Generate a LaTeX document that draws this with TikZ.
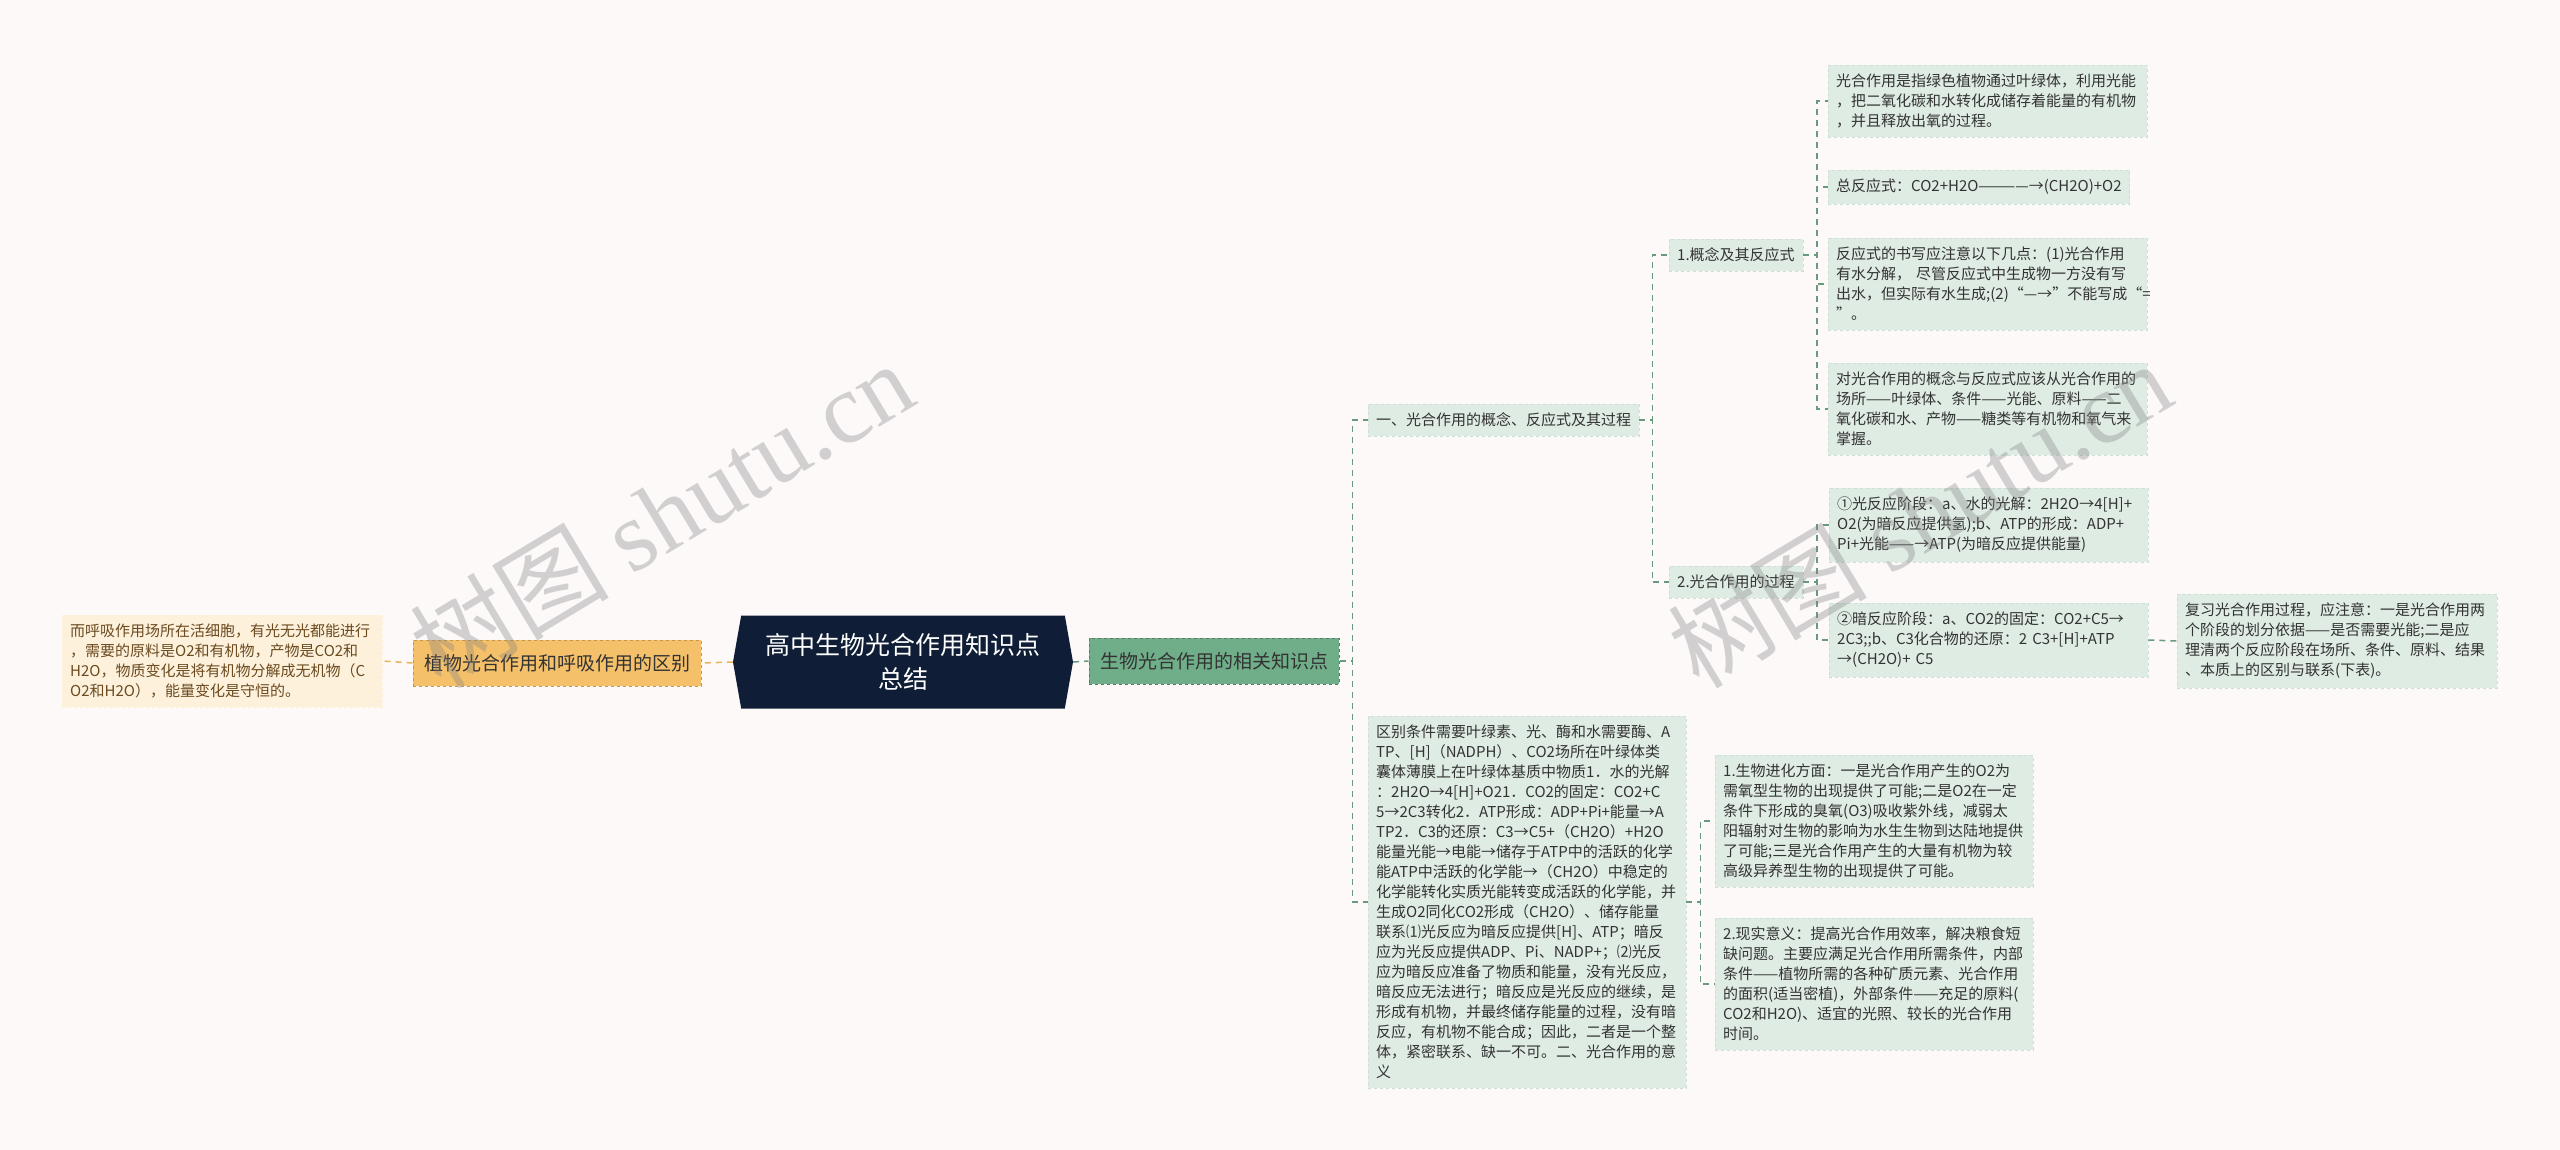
\documentclass[tikz,border=0pt]{standalone}
\usepackage{fontspec}
\setmainfont{Noto Sans CJK SC}
\newfontfamily\wmfont{Liberation Serif}
\usetikzlibrary{shapes.symbols}
\definecolor{bgcol}{HTML}{FCF9F8}
\definecolor{navy}{HTML}{0F1E36}
\definecolor{orangefill}{HTML}{F4C06A}
\definecolor{orangeline}{HTML}{E9B35A}
\definecolor{creamfill}{HTML}{FDF1DC}
\definecolor{creamtext}{HTML}{6B4A1F}
\definecolor{greenfill}{HTML}{6FAE88}
\definecolor{greenline}{HTML}{6A9A7E}
\definecolor{leaffill}{HTML}{DFECE4}
\definecolor{darktext}{HTML}{333333}

\begin{document}
\begin{tikzpicture}[
    x=1pt, y=-1pt,
    root/.style={shape=signal, signal to=west and east, signal pointer angle=160, fill=navy, text=white, font=\fontsize{25}{34}\selectfont, align=center, minimum width=340, minimum height=93, inner sep=0pt},
    topic/.style={dashed, line width=1pt, minimum height=46, inner xsep=11pt, text=darktext, font=\fontsize{19}{24}\selectfont},
    item/.style={fill=leaffill, draw=leaffill!85!greenline, dashed, text=darktext, anchor=west, align=left, inner xsep=8pt, inner ysep=9pt, font=\fontsize{15}{20}\selectfont},
    note/.style={item, fill=creamfill, draw=creamfill, text=creamtext},
    link/.style={draw=greenline, line width=1.5pt, dash pattern=on 6pt off 5pt},
    watermark/.style={rotate=31, text=gray, opacity=0.34, font=\fontsize{100}{100}\selectfont}
]
    \fill[bgcol] (0,0) rectangle (2560,1150);
    \useasboundingbox (0,0) rectangle (2560,1150);

    % root
    \node[root] (root) at (903,662) {高中生物光合作用知识点\\总结};

    % left branch
    \node[topic, fill=orangefill, draw=orangeline!85!black] (diff) at (557,663) {植物光合作用和呼吸作用的区别};
    \node[note, text width=304] (resp) at (62,661) {而呼吸作用场所在活细胞，有光无光都能进行\\，需要的原料是O2和有机物，产物是CO2和\\H2O，物质变化是将有机物分解成无机物（C\\O2和H2O），能量变化是守恒的。};

    % right branch
    \node[topic, fill=greenfill, draw=greenline!80!black] (know) at (1214,661) {生物光合作用的相关知识点};
    \node[item] (concept) at (1368,420) {一、光合作用的概念、反应式及其过程};
    \node[item, text width=302] (meaning) at (1368,902) {区别条件需要叶绿素、光、酶和水需要酶、A\\TP、[H]（NADPH）、CO2场所在叶绿体类\\囊体薄膜上在叶绿体基质中物质1．水的光解\\：2H2O→4[H]+O21．CO2的固定：CO2+C\\5→2C3转化2．ATP形成：ADP+Pi+能量→A\\TP2．C3的还原：C3→C5+（CH2O）+H2O\\能量光能→电能→储存于ATP中的活跃的化学\\能ATP中活跃的化学能→（CH2O）中稳定的\\化学能转化实质光能转变成活跃的化学能，并\\生成O2同化CO2形成（CH2O）、储存能量\\联系⑴光反应为暗反应提供[H]、ATP；暗反\\应为光反应提供ADP、Pi、NADP+；⑵光反\\应为暗反应准备了物质和能量，没有光反应，\\暗反应无法进行；暗反应是光反应的继续，是\\形成有机物，并最终储存能量的过程，没有暗\\反应，有机物不能合成；因此，二者是一个整\\体，紧密联系、缺一不可。二、光合作用的意\\义};

    % concept and equation
    \node[item] (eq) at (1669,255) {1.概念及其反应式};
    \node[item, text width=303] (define) at (1828,101) {光合作用是指绿色植物通过叶绿体，利用光能\\，把二氧化碳和水转化成储存着能量的有机物\\，并且释放出氧的过程。};
    \node[item] (total) at (1828,187) {总反应式：CO2+H2O————→(CH2O)+O2};
    \node[item, text width=303] (write) at (1828,284) {反应式的书写应注意以下几点：(1)光合作用\\有水分解， 尽管反应式中生成物一方没有写\\\mbox{出水，但实际有水生成;(2)“—→”不能写成“=}\\”。};
    \node[item, text width=303] (grasp) at (1828,409) {对光合作用的概念与反应式应该从光合作用的\\场所——叶绿体、条件——光能、原料——二\\氧化碳和水、产物——糖类等有机物和氧气来\\掌握。};

    % process
    \node[item] (proc) at (1669,582) {2.光合作用的过程};
    \node[item, text width=303] (light) at (1829,525) {①光反应阶段：a、水的光解：2H2O→4[H]+\\O2(为暗反应提供氢);b、ATP的形成：ADP+\\Pi+光能——→ATP(为暗反应提供能量)};
    \node[item, text width=303] (dark) at (1829,640) {②暗反应阶段：a、CO2的固定：CO2+C5→\\2C3;;b、C3化合物的还原：2 C3+[H]+ATP\\→(CH2O)+ C5};
    \node[item, text width=304] (review) at (2177,641) {复习光合作用过程，应注意：一是光合作用两\\个阶段的划分依据——是否需要光能;二是应\\理清两个反应阶段在场所、条件、原料、结果\\、本质上的区别与联系(下表)。};

    % significance
    \node[item, text width=302] (evo) at (1715,821) {1.生物进化方面：一是光合作用产生的O2为\\需氧型生物的出现提供了可能;二是O2在一定\\条件下形成的臭氧(O3)吸收紫外线，减弱太\\阳辐射对生物的影响为水生生物到达陆地提供\\了可能;三是光合作用产生的大量有机物为较\\高级异养型生物的出现提供了可能。};
    \node[item, text width=302] (real) at (1715,984) {2.现实意义：提高光合作用效率，解决粮食短\\缺问题。主要应满足光合作用所需条件，内部\\条件——植物所需的各种矿质元素、光合作用\\的面积(适当密植)，外部条件——充足的原料(\\CO2和H2O)、适宜的光照、较长的光合作用\\时间。};

    % connectors
    \draw[link, draw=orangeline] (root.west) -- (diff.east);
    \draw[link, draw=orangeline] (diff.west) -- (resp.east);
    \draw[link] (root.east) -- (know.west);
    \foreach \n in {concept,meaning}
        \draw[link] (know.east) -- ++(13,0) |- (\n.west);
    \foreach \n in {eq,proc}
        \draw[link] (concept.east) -- ++(13,0) |- (\n.west);
    \foreach \n in {define,total,write,grasp}
        \draw[link] (eq.east) -- ++(14,0) |- (\n.west);
    \foreach \n in {light,dark}
        \draw[link] (proc.east) -- ++(14,0) |- (\n.west);
    \draw[link] (dark.east) -- (review.west);
    \foreach \n in {evo,real}
        \draw[link] (meaning.east) -- ++(14,0) |- (\n.west);

    % watermarks
    \node[watermark] (wm1) at (661,514) {树图 {\wmfont shutu.cn}};
    \node[watermark] (wm2) at (1919,514) {树图 {\wmfont shutu.cn}};
\end{tikzpicture}
\end{document}
